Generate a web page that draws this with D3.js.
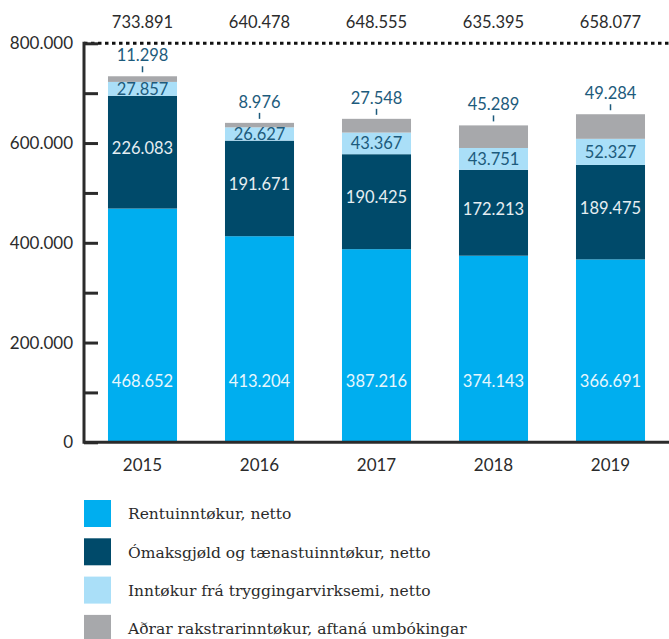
<!DOCTYPE html>
<html><head><meta charset="utf-8">
<script src="https://cdn.jsdelivr.net/npm/d3@7"></script>
<style>body{margin:0;background:#fff}svg{display:block}</style>
</head><body>
<svg id="c" width="669" height="639"></svg>
<script>
const years = ["2015","2016","2017","2018","2019"];
const rentu = [468652, 413204, 387216, 374143, 366691];
const omaks = [226083, 191671, 190425, 172213, 189475];
const trygg = [27857, 26627, 43367, 43751, 52327];
const adrar = [11298, 8976, 27548, 45289, 49284];
const totals = ["733.891","640.478","648.555","635.395","658.077"];
const seriesNames = ["Rentuinntøkur, netto","Ómaksgjøld og tænastuinntøkur, netto","Inntøkur frá tryggingarvirksemi, netto","Aðrar rakstrarinntøkur, aftaná umbókingar"];
const colors = ["#00aeef","#004a6a","#aadff8","#a7a8ab"];
const yTickLabels = [0,200000,400000,600000,800000];

const svg = d3.select("#c");
const fmt = v => d3.format(",")(v).replace(/,/g,".");
const x = d3.scaleBand().domain(years).range([84,669]).paddingInner(0.41).paddingOuter(0.205);
const y = d3.scaleLinear().domain([0,800000]).range([442.3,43.3]);
const rows = years.map((yr,i)=>({year:yr, s0:rentu[i], s1:omaks[i], s2:trygg[i], s3:adrar[i]}));
const stack = d3.stack().keys(["s0","s1","s2","s3"])(rows);
const labelBlue = "#1d5b7c";
const numFont = "Lato, 'Open Sans', sans-serif";

// bars
stack.forEach((layer,k)=>{
  svg.append("g").selectAll("rect").data(layer).join("rect")
    .attr("x",d=>x(d.data.year)).attr("width",x.bandwidth())
    .attr("y",d=>y(d[1])).attr("height",d=>y(d[0])-y(d[1]))
    .attr("fill",colors[k]);
});

// dotted top line
svg.append("line").attr("x1",84).attr("x2",669).attr("y1",y(800000)).attr("y2",y(800000))
  .attr("stroke","#111").attr("stroke-width",3).attr("stroke-dasharray","3.5,3.5");

// y axis
const yAxis = d3.axisRight(y).tickValues(d3.range(0,800001,100000)).tickSize(14).tickFormat("");
const ga = svg.append("g").attr("transform","translate(84,0)").call(yAxis);
ga.select(".domain").remove();
ga.selectAll(".tick line").attr("stroke","#2b2b2b").attr("stroke-width",3);
svg.append("line").attr("x1",84).attr("x2",84).attr("y1",y(800000)-1.5).attr("y2",y(0)+1.5)
  .attr("stroke","#2b2b2b").attr("stroke-width",3);
svg.append("line").attr("x1",84).attr("x2",669).attr("y1",y(0)).attr("y2",y(0))
  .attr("stroke","#2b2b2b").attr("stroke-width",3);
svg.append("g").selectAll("text").data(yTickLabels).join("text")
  .attr("x",73).attr("y",d=>y(d)).attr("dy","0.35em").attr("text-anchor","end")
  .attr("font-family",numFont).attr("font-size",17).attr("fill","#2b2b2b")
  .text(d=>fmt(d));

// x labels
const xAxis = d3.axisBottom(x).tickSize(0).tickPadding(0);
const gx = svg.append("g").attr("transform","translate(0,442)").call(xAxis);
gx.select(".domain").remove();
gx.selectAll("text").attr("y",29).attr("dy",0).attr("font-family",numFont).attr("font-size",17).attr("fill","#2b2b2b");

// totals
svg.append("g").selectAll("text").data(years).join("text")
  .attr("x",d=>x(d)+x.bandwidth()/2).attr("y",28).attr("text-anchor","middle")
  .attr("font-family",numFont).attr("font-size",16.5).attr("fill","#2b2b2b")
  .text((d,i)=>totals[i]);

const cx = d=>x(d.data.year)+x.bandwidth()/2;
// rentu labels (fixed low position)
svg.append("g").selectAll("text").data(stack[0]).join("text")
  .attr("x",cx).attr("y",y(122000)).attr("dy","0.35em").attr("text-anchor","middle")
  .attr("font-family",numFont).attr("font-size",16.5).attr("fill","#e8f7fd")
  .text(d=>fmt(d.data.s0));
// omaks labels
svg.append("g").selectAll("text").data(stack[1]).join("text")
  .attr("x",cx).attr("y",d=>(y(d[0])+y(d[1]))/2-4).attr("dy","0.35em").attr("text-anchor","middle")
  .attr("font-family",numFont).attr("font-size",16.5).attr("fill","#e6eef2")
  .text(d=>fmt(d.data.s1));
// trygg labels
svg.append("g").selectAll("text").data(stack[2]).join("text")
  .attr("x",cx).attr("y",d=>(y(d[0])+y(d[1]))/2).attr("dy","0.35em").attr("text-anchor","middle")
  .attr("font-family",numFont).attr("font-size",16.5).attr("fill",labelBlue)
  .text(d=>fmt(d.data.s2));
// adrar labels above
const ga2 = svg.append("g");
ga2.selectAll("line").data(stack[3]).join("line")
  .attr("x1",cx).attr("x2",cx).attr("y1",d=>y(d[1])-10).attr("y2",d=>y(d[1])-4)
  .attr("stroke",labelBlue).attr("stroke-width",1.5);
ga2.selectAll("text").data(stack[3]).join("text")
  .attr("x",cx).attr("y",d=>y(d[1])-15).attr("text-anchor","middle")
  .attr("font-family",numFont).attr("font-size",16.5).attr("fill",labelBlue)
  .text(d=>fmt(d.data.s3));

// legend
const lg = svg.append("g").selectAll("g").data(seriesNames).join("g")
  .attr("transform",(d,i)=>`translate(84,${500+i*38.3})`);
lg.append("rect").attr("width",27).attr("height",27).attr("fill",(d,i)=>colors[i]);
lg.append("text").attr("x",44).attr("y",14).attr("dy","0.35em")
  .attr("font-family","'DejaVu Serif', serif").attr("font-size",15.5).attr("fill","#2b2b2b")
  .text(d=>d);
</script>
</body></html>
